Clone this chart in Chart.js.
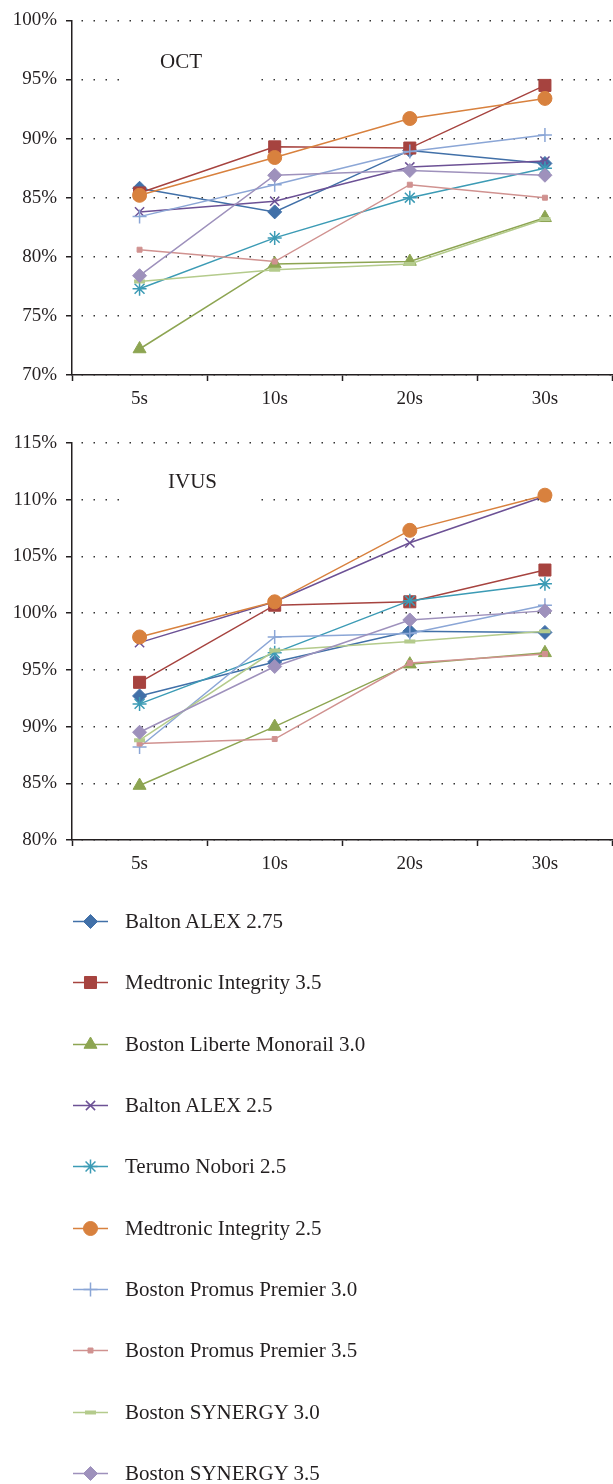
<!DOCTYPE html>
<html>
<head>
<meta charset="utf-8">
<title>OCT / IVUS</title>
<script src="https://cdn.jsdelivr.net/npm/chart.js@4.4.1/dist/chart.umd.min.js"></script>
<style>
html, body { margin:0; padding:0; background:#fff; overflow:hidden; width:613px; }
.grafico { display:block; }
#leyenda { padding-top:6px; font-family:'Liberation Serif', serif; font-size:21px; color:#231f20; }
.item { height:61.3px; display:flex; align-items:center; white-space:nowrap; }
.item canvas { margin-left:70px; margin-right:15px; }
</style>
</head>
<body>
<canvas id="graficoOCT" class="grafico" width="622" height="420"></canvas>
<canvas id="graficoIVUS" class="grafico" width="622" height="465"></canvas>
<div id="leyenda"></div>
<script>
// categorias (tiempo)
var categorias = ['5s', '10s', '20s', '30s'];

var nombres = [
    'Balton ALEX 2.75',
    'Medtronic Integrity 3.5',
    'Boston Liberte Monorail 3.0',
    'Balton ALEX 2.5',
    'Terumo Nobori 2.5',
    'Medtronic Integrity 2.5',
    'Boston Promus Premier 3.0',
    'Boston Promus Premier 3.5',
    'Boston SYNERGY 3.0',
    'Boston SYNERGY 3.5'
];

// OCT (%)
var octBalton275     = [85.8, 83.8, 89.0, 87.9];
var octMedtronic35   = [85.4, 89.3, 89.2, 94.5];
var octLiberte30     = [72.2, 79.4, 79.6, 83.3];
var octBalton25      = [83.8, 84.7, 87.6, 88.1];
var octNobori25      = [77.3, 81.6, 85.0, 87.5];
var octMedtronic25   = [85.2, 88.4, 91.7, 93.4];
var octPromus30      = [83.4, 86.1, 88.9, 90.3];
var octPromus35      = [80.6, 79.6, 86.1, 85.0];
var octSynergy30     = [77.9, 78.9, 79.4, 83.2];
var octSynergy35     = [78.4, 86.9, 87.3, 86.9];

// IVUS (%)
var ivusBalton275    = [92.7, 95.7, 98.4, 98.3];
var ivusMedtronic35  = [93.9, 100.7, 101.0, 103.8];
var ivusLiberte30    = [84.8, 90.0, 95.5, 96.5];
var ivusBalton25     = [97.4, 101.0, 106.2, 110.3];
var ivusNobori25     = [92.0, 96.5, 101.1, 102.6];
var ivusMedtronic25  = [97.9, 101.0, 107.3, 110.4];
var ivusPromus30     = [88.2, 97.9, 98.2, 100.7];
var ivusPromus35     = [88.5, 88.9, 95.6, 96.4];
var ivusSynergy30    = [88.8, 96.7, 97.5, 98.4];
var ivusSynergy35    = [89.5, 95.3, 99.4, 100.2];

// ticks eje y
var ticksOCT  = [70, 75, 80, 85, 90, 95, 100];
var ticksIVUS = [80, 85, 90, 95, 100, 105, 110, 115];

// estilos de cada serie
var colores = ['#4170a8', '#a6433f', '#8da552', '#6c5195', '#3c9bb5',
               '#d8813e', '#8ba6d6', '#d09290', '#b4cb8c', '#9e91bc'];
var puntos  = ['rectRot', 'rect', 'triangle', 'crossRot', 'star',
               'circle', 'cross', 'rect', 'line', 'rectRot'];
var radios  = [7, 8.5, 7.5, 6.5, 7, 7, 7, 3.5, 5.5, 7];
var bordes  = [1, 1, 1, 1.5, 1.5, 1, 1.5, 1, 4, 1];

Chart.defaults.font.family = "'Liberation Serif', serif";
Chart.defaults.font.size = 19;
Chart.defaults.color = '#231f20';

// cuadro blanco con el titulo dentro del grafico
var etiquetaPlugin = {
    id: 'etiqueta',
    beforeDatasetsDraw: function(chart, args, opts) {
        var ctx = chart.ctx;
        var a = chart.chartArea;
        ctx.save();
        ctx.fillStyle = '#fff';
        ctx.fillRect(a.left + 49, 36, 133, 48);
        ctx.fillStyle = '#231f20';
        ctx.font = "21px 'Liberation Serif'";
        ctx.textBaseline = 'middle';
        ctx.fillText(opts.texto, a.left + opts.x, 62);
        ctx.restore();
    }
};

function crearDatasets(valores) {
    var ds = [];
    for (var i = 0; i < valores.length; i++) {
        ds.push({
            label: nombres[i],
            data: valores[i],
            borderColor: colores[i],
            backgroundColor: colores[i],
            borderWidth: 1.5,
            pointStyle: puntos[i],
            pointRadius: radios[i],
            pointBorderWidth: bordes[i],
            pointBackgroundColor: colores[i],
            pointBorderColor: colores[i],
            tension: 0,
            order: valores.length - i
        });
    }
    return ds;
}

function crearGrafico(id, valores, ticks, titulo, xTitulo, arriba) {
    var config = {
        type: 'line',
        data: {
            labels: categorias,
            datasets: crearDatasets(valores)
        },
        plugins: [etiquetaPlugin],
        options: {
            responsive: false,
            animation: false,
            events: [],
            layout: { padding: { top: arriba, left: 0, right: 0, bottom: 0 } },
            plugins: {
                legend: { display: false },
                tooltip: { enabled: false },
                etiqueta: { texto: titulo, x: xTitulo }
            },
            scales: {
                x: {
                    offset: true,
                    grid: {
                        offset: true,
                        drawOnChartArea: false,
                        drawTicks: true,
                        tickLength: 6,
                        tickColor: '#231f20',
                        tickWidth: 1.5
                    },
                    border: { display: true, color: '#231f20', width: 1.5 },
                    ticks: { padding: 7, maxRotation: 0 },
                    afterFit: function(scale) { scale.height = 45; }
                },
                y: {
                    min: ticks[0],
                    max: ticks[ticks.length - 1],
                    afterBuildTicks: function(scale) {
                        scale.ticks = ticks.map(function(v) { return { value: v }; });
                    },
                    grid: {
                        color: '#333',
                        lineWidth: 1.5,
                        drawTicks: true,
                        tickLength: 6,
                        tickColor: '#231f20',
                        tickWidth: 1.5,
                        tickBorderDash: []
                    },
                    border: { display: true, color: '#231f20', width: 1.5, dash: [1.5, 10.5], dashOffset: 3 },
                    ticks: {
                        padding: 9,
                        callback: function(v) { return v + '%'; }
                    },
                    afterFit: function(scale) { scale.width = 72; }
                }
            }
        }
    };
    return new Chart(document.getElementById(id), config);
}

crearGrafico('graficoOCT',
    [octBalton275, octMedtronic35, octLiberte30, octBalton25, octNobori25,
     octMedtronic25, octPromus30, octPromus35, octSynergy30, octSynergy35],
    ticksOCT, 'OCT', 88, 16);

crearGrafico('graficoIVUS',
    [ivusBalton275, ivusMedtronic35, ivusLiberte30, ivusBalton25, ivusNobori25,
     ivusMedtronic25, ivusPromus30, ivusPromus35, ivusSynergy30, ivusSynergy35],
    ticksIVUS, 'IVUS', 96, 23);

// leyenda en html
function dibujarMarcador(canvas, i) {
    var ctx = canvas.getContext('2d');
    ctx.strokeStyle = colores[i];
    ctx.fillStyle = colores[i];
    ctx.lineWidth = 1.5;
    ctx.beginPath();
    ctx.moveTo(3, 11.5);
    ctx.lineTo(38, 11.5);
    ctx.stroke();
    ctx.lineWidth = bordes[i];
    if (Chart.helpers && Chart.helpers.drawPoint) {
        Chart.helpers.drawPoint(ctx, { pointStyle: puntos[i], radius: radios[i], rotation: 0, borderWidth: bordes[i] }, 20.5, 11.5);
    } else {
        ctx.beginPath();
        ctx.arc(20.5, 11.5, 5, 0, Math.PI * 2);
        ctx.fill();
    }
}

var leyenda = document.getElementById('leyenda');
for (var i = 0; i < nombres.length; i++) {
    var item = document.createElement('div');
    item.className = 'item';
    var c = document.createElement('canvas');
    c.width = 40;
    c.height = 23;
    item.appendChild(c);
    var t = document.createElement('span');
    t.textContent = nombres[i];
    item.appendChild(t);
    leyenda.appendChild(item);
    dibujarMarcador(c, i);
}
</script>
</body>
</html>
